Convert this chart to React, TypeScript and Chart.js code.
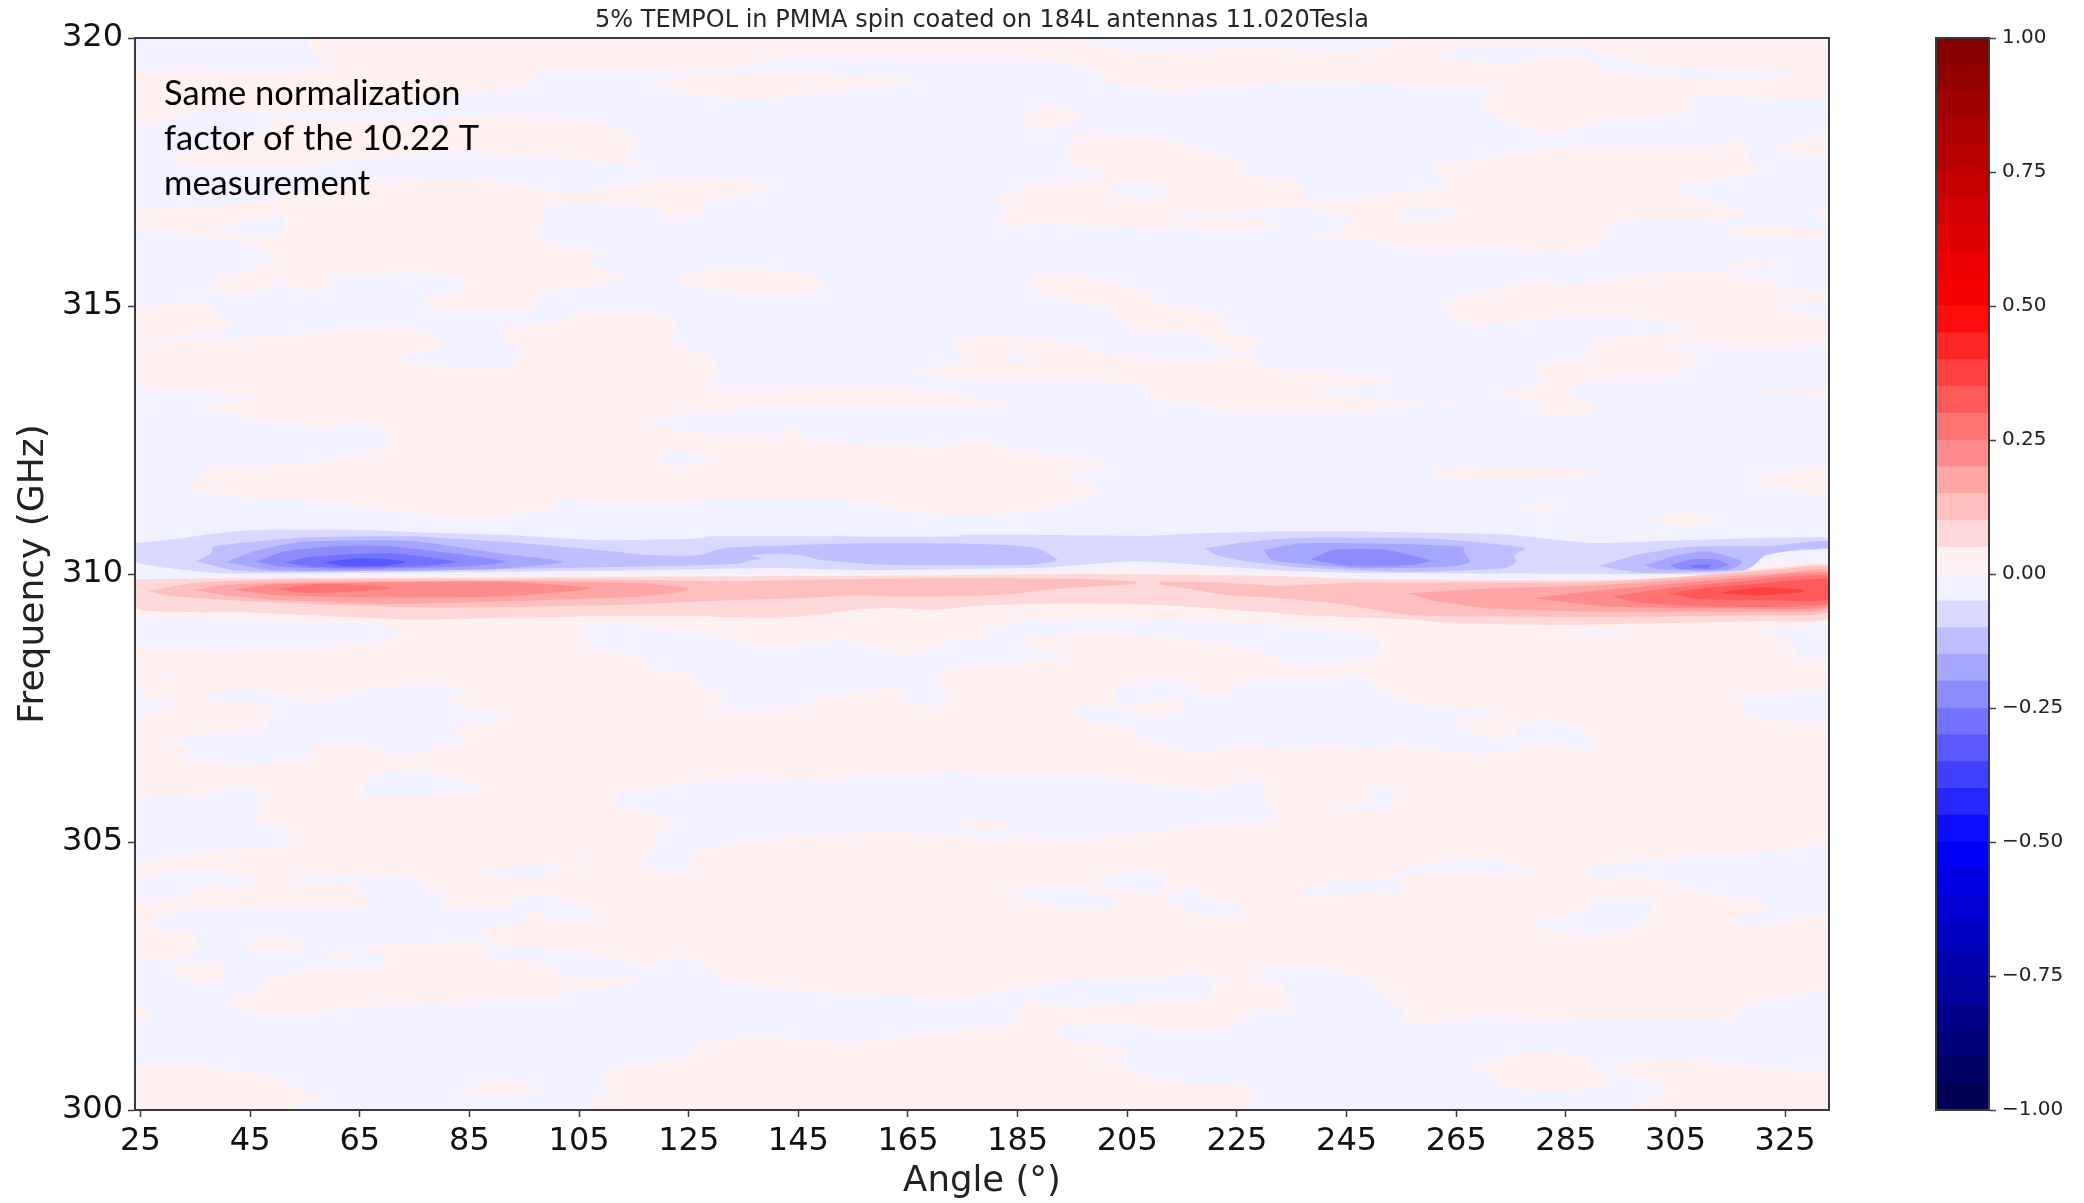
import React, { useEffect, useRef } from "react";
import { Chart, registerables } from "chart.js";

Chart.register(...registerables);

type Pt = [number, number];

const chartTitle = "5% TEMPOL in PMMA spin coated on 184L antennas 11.020Tesla";
const xAxisTitle = "Angle (°)";
const yAxisTitle = "Frequency (GHz)";
const noteLines = ["Same normalization", "factor of the 10.22 T", "measurement"];
const angleTicks = [25, 45, 65, 85, 105, 125, 145, 165, 185, 205, 225, 245, 265, 285, 305, 325];
const barTicks = [-1, -0.75, -0.5, -0.25, 0, 0.25, 0.5, 0.75, 1];
const levelEdges = [-1, -0.95, -0.9, -0.85, -0.8, -0.75, -0.7, -0.65, -0.6, -0.55, -0.5, -0.45, -0.4, -0.35, -0.3, -0.25, -0.2, -0.15, -0.1, -0.05, 0, 0.05, 0.1, 0.15, 0.2, 0.25, 0.3, 0.35, 0.4, 0.45, 0.5, 0.55, 0.6, 0.65, 0.7, 0.75, 0.8, 0.85, 0.9, 0.95, 1];
const levelColors = ["#000055", "#000067", "#000079", "#00008b", "#00009d", "#0000af", "#0000c1", "#0000d2", "#0000e4", "#0000f6", "#0d0dff", "#2626ff", "#4040ff", "#5959ff", "#7373ff", "#8c8cff", "#a6a6ff", "#bfbfff", "#d9d9ff", "#f1f1ff", "#fff1f1", "#ffd9d9", "#ffbfbf", "#ffa6a6", "#ff8c8c", "#ff7373", "#ff5959", "#ff4040", "#ff2626", "#ff0d0d", "#f90000", "#ec0000", "#df0000", "#d20000", "#c60000", "#b90000", "#ac0000", "#9f0000", "#930000", "#860000"];

const LAV = "#f1f1ff", PINK = "#fff1f1", B10 = "#d9d9ff", B15 = "#bfbfff", B20 = "#a6a6ff", B25 = "#8c8cff", B30 = "#7373ff", B35 = "#5959ff";
const R10 = "#ffd9d9", R15 = "#ffbfbf", R20 = "#ffa6a6", R25 = "#ff8c8c", R30 = "#ff7373", R35 = "#ff5959", R40 = "#ff4040";

const pinkBase: Pt[] = [[24, 320], [333, 320], [333, 300], [24, 300]];
const lavenderUpper: Pt[] = [[24, 320], [333, 320], [333, 310.34], [323.5, 310.23], [317, 310.14], [306, 310.01], [290, 309.89], [271, 309.86], [250, 309.9], [236.5, 309.98], [222, 310.05], [205, 310.11], [190, 310.04], [156, 310], [116, 309.99], [60, 309.97], [24, 309.98]];

const pinkTop: Pt[] = [[55.6, 320], [191, 320], [207.8, 319.74], [227.6, 319.83], [246.3, 319.75], [256.2, 319.97], [256.2, 320], [333, 320], [333, 318.89], [309.7, 318.93], [306.7, 318.57], [291.8, 318.51], [285.4, 318.26], [281, 318.23], [274, 318.45], [269.6, 318.82], [272, 319.02], [262.2, 319.1], [239.4, 319.19], [222.6, 319.1], [211.7, 319], [206.8, 319.1], [199.4, 319.18], [199.4, 319.25], [201, 319.33], [194.9, 319.5], [190.9, 319.6], [184, 319.63], [178, 319.63], [141.7, 319.63], [131.8, 319.41], [117, 319.38], [98.2, 319.41], [96.7, 319.32], [96.7, 319.19], [91.2, 319.04], [78.4, 318.88], [74.4, 318.73], [48.7, 318.6], [37.8, 318.66], [24, 318.41], [24, 319.35], [46.7, 319.38], [59.6, 319.47], [56.1, 319.75]];
const pinkStreak: Pt[] = [[116.5, 319.13], [121.9, 319.25], [136.7, 319.35], [151.6, 319.32], [167.9, 319.22], [156.5, 319.07], [136.7, 318.85], [123.9, 318.97]];
const pinkUpperLeft: Pt[] = [[48.9, 318.59], [52.7, 318.45], [86.3, 318.54], [108.1, 318.45], [116, 318.07], [113.5, 317.82], [117.5, 317.61], [102.1, 317.76], [82.3, 317.85], [62.6, 317.73], [56.6, 317.6], [35.9, 317.57], [30.9, 317.7], [32.9, 317.82], [42.8, 318.07], [48.9, 318.32]];
const pinkMidLeft: Pt[] = [[24, 316.8], [47.7, 316.95], [52.7, 317.11], [66.5, 317.31], [87.3, 317.36], [103.1, 317.13], [121.9, 317.39], [131.8, 317.36], [140.2, 317.26], [138.7, 317.14], [127.8, 316.92], [127.8, 316.7], [120.4, 316.67], [119.9, 316.83], [112, 316.89], [99.2, 316.89], [98.2, 316.46], [97.2, 316.33], [102.1, 316.05], [108.6, 316.02], [107.1, 315.77], [114, 315.55], [109.1, 315.4], [97.2, 315.24], [96.7, 314.93], [77.4, 314.96], [76.9, 315.15], [83.8, 315.27], [83.8, 315.52], [74.4, 315.62], [59.6, 315.55], [59.6, 315.34], [53.7, 315.3], [50.7, 315.49], [46.7, 315.27], [38.8, 315.27], [38.8, 315.52], [49.7, 315.83], [43.3, 316.21], [33.9, 316.33], [24, 316.45]];
const pinkOval: Pt[] = [[122.4, 315.52], [127.8, 315.68], [139.7, 315.68], [147.6, 315.55], [149.8, 315.37], [146.6, 315.24], [134.8, 315.24], [125.9, 315.37]];
const pinkEdgeLeft: Pt[] = [[24, 314.96], [35.9, 315.09], [37.8, 314.96], [41.8, 314.65], [37.8, 314.53], [24, 314.4]];
const pinkLarge: Pt[] = [[24, 314.34], [52.7, 314.47], [71.5, 314.65], [76.4, 314.53], [80.4, 314.25], [72, 314.06], [75.4, 313.91], [92.2, 313.87], [94.2, 314.19], [90.8, 314.4], [91.2, 314.59], [102.1, 314.71], [104.6, 314.9], [117, 314.9], [122.9, 314.71], [121.9, 314.31], [129.8, 314], [130.3, 313.72], [127.8, 313.47], [151.6, 313.46], [169.4, 313.44], [178.1, 313.25], [183, 313.25], [183, 313.14], [174.3, 313.14], [141.7, 313.13], [121.9, 312.97], [117.5, 312.85], [123.9, 312.66], [138.7, 312.6], [140.7, 312.51], [144.7, 312.79], [146.6, 312.51], [171.4, 312.38], [178.1, 312.51], [184, 312.32], [195.9, 312.16], [201.8, 312.04], [193.9, 311.82], [200.4, 311.57], [196.2, 311.38], [188.5, 311.19], [175.9, 311.08], [165.3, 311.16], [153.5, 311.38], [131.8, 311.39], [117, 311.33], [100.7, 311.38], [100.7, 311.25], [94.5, 311.14], [86.9, 311.01], [77, 311.1], [54.7, 311.38], [46.7, 311.39], [33.9, 311.6], [37.8, 311.95], [57.6, 312.1], [68.5, 312.35], [70.5, 312.6], [64.5, 312.85], [57.6, 312.72], [35.9, 313.1], [46.7, 313.3], [24, 313.53]];
const pinkTipLeft: Pt[] = [[24, 313.16], [27, 313.1], [24, 313.03]];
const pinkBand314: Pt[] = [[178.1, 314.47], [188, 314.4], [197.9, 314.25], [200.9, 314.09], [217.7, 314], [226.6, 314.09], [230.5, 313.87], [239.4, 313.77], [252.3, 313.66], [252.8, 313.53], [245.4, 313.5], [239.9, 313.46], [245.4, 313.31], [258.2, 313.21], [258.2, 313.15], [240.4, 313], [222.6, 313.02], [215.7, 313.22], [209.8, 313.25], [207.8, 313.53], [192.9, 313.59], [178.1, 313.59], [165.9, 313.78], [175.3, 314], [172.9, 314.28]];
const pinkBlob318: Pt[] = [[185.5, 318.51], [190, 318.73], [196.4, 318.63], [196.4, 318.51], [191.5, 318.31], [186.5, 318.32]];
const pinkCentral: Pt[] = [[193.9, 318.25], [206.8, 318.17], [212.7, 318.1], [219.6, 317.85], [226.1, 317.7], [225.6, 317.51], [236.5, 317.29], [237.4, 317.01], [242.4, 316.95], [255.3, 317.14], [263.2, 317.23], [263.2, 317.39], [259.7, 317.57], [282, 317.95], [295.8, 318], [312.6, 317.98], [315.6, 318.1], [318.6, 317.92], [318, 317.73], [321.3, 317.51], [305.2, 317.23], [308.7, 317.01], [317.6, 316.77], [316.6, 316.64], [293.3, 316.58], [292.8, 316.27], [285.9, 316.02], [270.1, 316.08], [255.3, 316.05], [251.3, 316.21], [239.4, 316.24], [239.9, 316.33], [243.9, 316.42], [245.9, 316.64], [238.4, 316.83], [231.5, 316.83], [223.6, 316.75], [214.7, 316.75], [214.2, 316.67], [227.6, 316.64], [233, 316.49], [220.6, 316.41], [214.7, 316.49], [209.8, 316.44], [191, 316.53], [181.6, 316.49], [181.1, 316.61], [183.5, 316.7], [180.6, 317.01], [184, 317.08], [187.5, 317.29], [199.9, 317.36], [200, 317.48], [193.9, 317.7], [193.9, 317.85], [195.4, 318.07]];
const pinkEdge318: Pt[] = [[323, 317.98], [333, 318.2], [333, 317.8], [323.5, 317.89]];
const pinkEdge317: Pt[] = [[329.4, 316.77], [333, 316.86], [333, 316.64]];
const pinkStreak316: Pt[] = [[313.6, 316.46], [324.5, 316.49], [332.2, 316.39], [330.4, 316.28], [319.5, 316.27], [315.1, 316.33]];
const pinkSmall315: Pt[] = [[314.6, 315.77], [320.5, 315.88], [326.8, 315.82], [320.5, 315.76], [315.1, 315.68]];
const pinkDiagonal: Pt[] = [[186.5, 315.52], [194.9, 315.6], [207.8, 315.27], [211.7, 315.02], [222.1, 314.84], [223.1, 314.53], [229.5, 314.4], [229, 314.28], [225.6, 314.15], [222.1, 314.25], [217.7, 314.48], [205.8, 314.59], [201.8, 314.96], [193.9, 315.09], [188, 315.3]];
const pinkRight314: Pt[] = [[263.2, 315.09], [279, 315.46], [286.9, 315.41], [301.7, 315.62], [315.1, 315.62], [323.5, 315.4], [333, 315.21], [333, 315.07], [322.5, 315.06], [326.5, 314.87], [333, 314.78], [333, 314.31], [316.6, 314.25], [303.7, 314.28], [304.2, 314.19], [309.2, 314.12], [308.7, 313.97], [303.7, 313.69], [292.8, 313.66], [284.9, 313.44], [290.4, 313.13], [290.4, 313.03], [283, 312.94], [278.8, 313.03], [281, 313.19], [272.1, 313.35], [281, 313.59], [279, 313.87], [288.9, 314.06], [289.9, 314.34], [306.7, 314.56], [307.2, 314.62], [291.8, 314.84], [268.1, 314.65], [263.2, 314.9]];
const pinkDot313: Pt[] = [[262.2, 313.22], [264.6, 313.22], [264.6, 313.16], [262.2, 313.16]];
const pinkEdge313: Pt[] = [[320, 313.44], [333, 313.44], [333, 313.22], [328.4, 313.35], [320.5, 313.38]];
const pinkStreak312: Pt[] = [[260.2, 311.92], [267.1, 311.98], [283, 311.98], [291.8, 311.88], [286.9, 311.8], [267.1, 311.76], [260.7, 311.82]];
const pinkSmall311: Pt[] = [[276.6, 311.23], [280.5, 311.3], [284.3, 311.25], [280.5, 311.14]];
const pinkEdge312: Pt[] = [[318.5, 311.79], [333, 312.01], [333, 311.48], [319.5, 311.7]];
const pinkOval311: Pt[] = [[300, 311], [307, 311.16], [313.3, 311.03], [306.5, 310.87]];

const lavTopRight: Pt[] = [[260.7, 319.66], [267.1, 319.84], [283, 319.81], [286.9, 319.88], [290.9, 319.72], [302.7, 319.47], [326.5, 319.38], [323.5, 319.25], [309.7, 319.22], [291.8, 319.41], [289.4, 319.56], [285.9, 319.69], [281, 319.66], [275.5, 319.51], [267.1, 319.58]];
const lavIsle316: Pt[] = [[38.8, 316.46], [44.8, 316.58], [51, 316.7], [50.7, 316.36], [43.3, 316.27]];
const lavIsle312: Pt[] = [[118.4, 312.16], [122.9, 312.3], [130.3, 312.11], [121.9, 312.03]];
const lavIsle317: Pt[] = [[201.8, 317.23], [206.8, 317.33], [212.7, 317.15], [206.8, 317], [202.3, 317.11]];
const lavIsle316b: Pt[] = [[254.3, 316.67], [256.2, 316.86], [265.6, 316.77], [260.2, 316.59]];
const lavIsle314: Pt[] = [[182.6, 314.06], [185, 314.12], [188.5, 314.04], [185, 313.96]];

const lavUnderLeft: Pt[] = [[24, 309.14], [49.1, 309.13], [66.6, 309.07], [72.8, 308.92], [70, 308.77], [60.3, 308.67], [40, 308.57], [24, 308.67]];
const lavTiny308: Pt[] = [[27.9, 308.17], [32.9, 308.1], [28.9, 308.09]];
const lavEdge307: Pt[] = [[24, 307.87], [26, 307.84], [25, 307.71], [30.7, 307.6], [27.9, 307.43], [24, 307.34]];
const lavLeft307: Pt[] = [[36.4, 307.71], [41.8, 307.84], [47.7, 307.81], [56.6, 307.6], [65.5, 307.84], [76.4, 307.93], [85.3, 307.85], [81.4, 307.71], [81.4, 307.59], [91.7, 307.31], [88.3, 307.22], [82.3, 307.14], [82.3, 307.03], [84.3, 306.87], [79.4, 306.78], [76.4, 306.66], [69.5, 306.66], [66.5, 306.81], [56.6, 306.84], [55.6, 306.59], [43.8, 306.44], [32.9, 306.59], [33.9, 306.75], [29.4, 306.87], [38.8, 307.06], [47.7, 307.12], [48.7, 307.34], [49.9, 307.46], [45.7, 307.59], [37.8, 307.62]];
const lavSmall306: Pt[] = [[66, 306.28], [75.4, 306.33], [80.4, 306.25], [87.3, 306], [84.3, 305.91], [66, 305.88], [66, 306.13], [68, 306.19]];
const lavLeft305: Pt[] = [[24, 305.85], [39.3, 305.91], [40.8, 306.05], [46.2, 306.03], [46.7, 305.88], [50.2, 305.82], [46.2, 305.72], [46.7, 305.6], [46.2, 305.35], [52.7, 305.16], [50.7, 304.91], [41.8, 304.88], [32.9, 304.76], [24, 304.7]];
const lavCenter308: Pt[] = [[106, 309.03], [112, 309.07], [125.9, 308.92], [130.7, 308.86], [134, 308.71], [144.5, 308.67], [153.5, 308.77], [163.3, 308.49], [173.8, 308.77], [180.8, 308.77], [178, 308.89], [186.4, 309.14], [207.3, 309.17], [224.8, 309.09], [236.5, 309.02], [246.7, 308.92], [250.8, 308.77], [250.3, 308.49], [237.4, 308.27], [228.5, 308.58], [217.7, 308.77], [201.7, 308.89], [185, 308.8], [189, 308.52], [193.9, 308.52], [193.9, 308.43], [189, 308.4], [178.1, 308.3], [173.3, 308.24], [170.4, 308.09], [170.4, 307.84], [172.2, 307.71], [171.9, 307.59], [169.4, 307.53], [163.5, 307.66], [164.4, 307.87], [157.5, 307.84], [148.1, 307.68], [145.7, 307.5], [134.8, 307.46], [129.3, 307.5], [131.3, 307.62], [130.8, 307.78], [126.9, 307.9], [126.4, 308.09], [123.9, 308.18], [120.4, 308.18], [115, 308.49], [109.1, 308.55], [106.1, 308.77]];
const lavStreak309: Pt[] = [[285.1, 308.88], [290.7, 308.94], [297.3, 308.89], [290.7, 308.82]];
const lavEdge308: Pt[] = [[320.7, 308.95], [333, 309.03], [333, 308.38], [327.5, 308.43], [327, 308.58], [324.5, 308.77]];
const lavRight307: Pt[] = [[194.4, 307.5], [201.8, 307.56], [204.8, 307.48], [209.8, 307.31], [214.7, 307.43], [215.2, 307.59], [213.9, 307.71], [206.8, 307.59], [203.3, 307.59], [202.8, 307.74], [203.8, 307.96], [211.7, 308.01], [219.1, 307.93], [215.7, 307.78], [219.6, 307.71], [224.6, 307.84], [224.6, 307.93], [230.5, 308.04], [242.4, 308.05], [247.3, 308.12], [255.7, 307.62], [272.1, 307.43], [273.1, 307.37], [265.1, 307.31], [264.6, 307.18], [271.1, 306.95], [275.5, 306.97], [276.5, 307.18], [279.5, 307.27], [286.9, 307.14], [289.4, 306.97], [289.4, 306.72], [283.9, 306.84], [277.5, 306.87], [276, 306.72], [269.1, 306.66], [257.2, 306.77], [254.8, 306.85], [252.3, 306.77], [239.4, 306.78], [236.5, 306.72], [230.5, 306.77], [225.6, 306.79], [218.7, 306.69], [212.7, 306.75], [206.8, 306.97], [205.3, 307.15], [197.9, 307.23]];
const lavEdge307b: Pt[] = [[316.6, 307.68], [326.5, 307.81], [333, 307.82], [333, 307.25], [318.6, 307.34], [317.1, 307.53]];
const lavCenter306: Pt[] = [[111.5, 305.88], [121.9, 306.06], [134.8, 306.21], [146.6, 306.16], [159.5, 306.25], [174.3, 306.31], [178.1, 306.28], [197.9, 306.28], [206.8, 306.1], [217.7, 306], [220.6, 305.94], [225.6, 306.13], [230, 306.11], [230, 305.78], [232, 305.54], [229.5, 305.36], [224.6, 305.38], [211.7, 305.22], [194.9, 305.05], [185, 305.1], [181.6, 305.04], [178.1, 305.08], [161.5, 305.19], [139.7, 305.07], [126.9, 304.85], [124.9, 304.73], [125.9, 304.54], [121.9, 304.43], [117, 304.54], [116.5, 304.63], [118.9, 304.88], [119.1, 305.1], [122.9, 305.32], [116, 305.63], [111.5, 305.68]];
const pinkIsle305: Pt[] = [[173.3, 305.36], [178.1, 305.41], [183, 305.38], [183.5, 305.26], [178.1, 305.19], [175.3, 305.28]];
const lavSmall305: Pt[] = [[241.4, 305.67], [249.3, 305.75], [249.3, 305.97], [251.8, 306.06], [253.8, 305.94], [252.8, 305.6], [246.3, 305.61]];
const lavStreak304: Pt[] = [[85.3, 304.46], [94.2, 304.54], [101.1, 304.6], [102.1, 304.53], [97.2, 304.35], [92.2, 304.32]];
const lavDot304: Pt[] = [[103.6, 304.63], [106.6, 304.62], [104.6, 304.55]];
const lavEdge304: Pt[] = [[24, 304.26], [28.9, 304.45], [35.9, 304.48], [41.8, 304.39], [47.2, 304.32], [41.8, 304.17], [35.9, 304.2], [31.9, 303.95], [24, 303.89]];
const lavLowerLeft: Pt[] = [[52.7, 304.35], [57.6, 304.34], [65.5, 304.4], [75.4, 304.34], [76.4, 304.2], [80.4, 303.98], [79.4, 303.86], [82.3, 303.76], [92.2, 303.79], [93.7, 303.97], [99.2, 303.99], [104.6, 303.86], [108.3, 303.66], [105.1, 303.53], [99.2, 303.52], [98.4, 303.7], [94.7, 303.7], [95.7, 303.5], [86.8, 303.37], [90.3, 303.08], [98.2, 303.02], [108.1, 302.89], [114, 302.77], [117, 302.66], [120.9, 302.81], [125.9, 302.83], [130.3, 302.46], [146.6, 302.21], [165.4, 302.12], [168.4, 302.02], [173.3, 302.05], [178.1, 302.12], [193.9, 302.43], [211.7, 302.46], [216.2, 302.56], [223.6, 302.43], [220.6, 302.33], [219.6, 302.12], [208.8, 302.02], [194.9, 301.93], [187, 302.04], [185.5, 301.93], [184, 301.59], [178.1, 301.56], [155.5, 301.28], [136.7, 301.37], [126.9, 301.24], [124.4, 301], [112, 300.81], [108.6, 300.56], [111, 300.37], [106.6, 300.16], [106.6, 300], [53.2, 300], [53.2, 300.09], [58.6, 300.22], [52.7, 300.44], [49.7, 300.65], [42.8, 300.72], [31.9, 300.88], [24, 300.84], [24, 301.68], [27.9, 301.77], [24, 301.99], [24, 302.8], [30.9, 302.8], [35.4, 303.02], [34.9, 303.27], [26.5, 303.42], [28.9, 303.64], [39.8, 303.8], [52.7, 303.73], [67, 303.8], [65.5, 303.98], [64.5, 304.2], [57.6, 304.23], [52.7, 304.26]];
const pinkIsle303: Pt[] = [[44.3, 303.14], [49.7, 303.25], [54.2, 303.17], [54.7, 303.02], [46.7, 302.96], [44.3, 303.02]];
const pinkDot303: Pt[] = [[58.6, 302.92], [62.6, 302.94], [63.1, 302.83], [60.6, 302.8], [58.8, 302.86]];
const pinkIsle302: Pt[] = [[30.4, 302.64], [32.9, 302.75], [38.8, 302.77], [40, 302.61], [39.8, 302.43], [35.4, 302.4], [32.4, 302.49]];
const pinkLobe302: Pt[] = [[40.8, 302.05], [43.8, 302.12], [49.7, 302.49], [60.6, 302.67], [65.5, 302.61], [69.5, 302.64], [69, 302.92], [65.5, 302.96], [66, 303.05], [74.4, 303.11], [88.3, 303.11], [88.3, 302.83], [97.2, 302.77], [103.1, 302.48], [115, 302.49], [115.5, 302.4], [109.1, 302.24], [103.1, 302.24], [102.1, 302.12], [62.6, 301.9], [51.7, 301.74], [40.8, 301.96]];
const pinkBlob300: Pt[] = [[82.3, 300.37], [90.3, 300.56], [97.2, 300.44], [97.7, 300.34], [90.3, 300.24], [84.3, 300.28]];
const lavLowerRight: Pt[] = [[227.1, 302.46], [230.5, 302.61], [235.5, 302.71], [239.4, 302.69], [243.4, 302.55], [248.8, 302.46], [252.8, 302.05], [255.7, 301.84], [255.2, 301.71], [259.2, 301.59], [263.2, 301.65], [266.1, 301.63], [268.1, 301.74], [277, 301.71], [306.7, 301.68], [315.6, 301.71], [316.1, 301.9], [333, 302.18], [333, 300.78], [305.7, 300.95], [295.8, 300.9], [293.3, 300.75], [297.8, 300.56], [302.7, 300.44], [302.7, 300.28], [292.8, 300], [225.6, 300], [228.5, 300.25], [226.6, 300.47], [216.7, 300.5], [206.8, 300.65], [202.8, 300.92], [196.9, 301], [204.3, 301], [204.8, 301.15], [194.9, 301.28], [191.9, 301.43], [192.9, 301.56], [204.8, 301.59], [212.7, 301.49], [222.1, 301.49], [226.6, 301.74], [229.5, 301.94], [232, 301.84], [235, 301.9], [234, 302.12], [233.5, 302.37], [230.5, 302.4]];
const pinkIsle301: Pt[] = [[267.1, 300.78], [277, 301.09], [287.9, 301], [290.4, 300.78], [292.8, 300.62], [292.3, 300.47], [282.9, 300.34], [273.5, 300.44], [273.1, 300.59]];
const lavBlob304a: Pt[] = [[181.6, 304.07], [191.9, 304.18], [195.9, 304.14], [198.9, 304.03], [203.3, 303.92], [201.8, 303.79], [192.9, 303.74], [189.5, 303.86], [183, 304.01]];
const lavBlob304b: Pt[] = [[198.9, 304.32], [206.8, 304.45], [211.7, 304.35], [211.7, 304.1], [207.8, 304.03], [203.3, 304.14]];
const lavBlob304c: Pt[] = [[213.2, 304.1], [217.7, 304.16], [218.7, 303.95], [225.1, 303.86], [225.6, 303.64], [219.1, 303.62], [212.2, 303.89]];
const lavBlob304d: Pt[] = [[237, 304.11], [242.4, 304.26], [252.3, 304.32], [256.2, 304.54], [265.1, 304.65], [273.1, 304.65], [279.5, 304.47], [272.1, 304.39], [262.2, 304.42], [254.3, 304.34], [255.7, 304.07], [247.3, 304.07], [241.4, 303.99], [237.4, 304]];
const lavRight304: Pt[] = [[288.4, 304.54], [296.8, 304.63], [316.6, 304.79], [326.5, 304.85], [333, 304.96], [333, 303.67], [327.5, 303.61], [324.5, 303.48], [315.6, 303.45], [315.1, 303.55], [322.5, 303.73], [320.5, 303.86], [310.6, 304.07], [304.7, 304.26], [297.8, 304.37], [289.9, 304.34]];
const lavBlob303: Pt[] = [[278.5, 303.48], [286.9, 303.68], [290.9, 303.95], [300.7, 303.92], [300.3, 303.61], [296.8, 303.39], [289.9, 303.27], [281.9, 303.36]];

const bandLevel10Blue: Pt[] = [[24, 310.58], [29.5, 310.63], [40, 310.77], [45.6, 310.82], [65.9, 310.82], [74.9, 310.78], [91, 310.73], [108.5, 310.63], [127, 310.66], [128.4, 310.7], [174.5, 310.7], [174.8, 310.73], [186.4, 310.73], [209, 310.71], [215.7, 310.75], [222.7, 310.77], [230, 310.79], [249.5, 310.79], [265.9, 310.76], [274.6, 310.73], [289.3, 310.58], [306.7, 310.63], [333, 310.68], [333, 310.48], [324.9, 310.42], [321.4, 310.35], [319.3, 310.17], [317.2, 310.01], [295.5, 310], [246.7, 310.02], [236.5, 310.05], [222, 310.14], [211, 310.22], [204, 310.23], [192.9, 310.14], [187, 310.11], [156.8, 310.07], [140, 310.11], [116.1, 310.07], [40, 310.01], [30.2, 310.11], [24, 310.24]];
const bandLevel15BlueLeft: Pt[] = [[35.1, 310.24], [37.9, 310.38], [38.3, 310.51], [45.6, 310.6], [54.7, 310.68], [74.9, 310.7], [91, 310.6], [108.5, 310.45], [119, 310.35], [127, 310.35], [130.5, 310.46], [133.3, 310.5], [154.9, 310.57], [173.8, 310.57], [182.9, 310.54], [188.5, 310.48], [192.3, 310.26], [187.1, 310.17], [161.4, 310.17], [156, 310.2], [149.1, 310.26], [145.6, 310.35], [141, 310.38], [136.4, 310.35], [138.3, 310.28], [136.4, 310.26], [134.5, 310.2], [129.1, 310.17], [116.1, 310.14], [84, 310.08], [49.1, 310.04], [42.1, 310.07]];
const bandLevel15BlueMid: Pt[] = [[219.2, 310.48], [224.8, 310.57], [231.7, 310.65], [236.5, 310.67], [239.7, 310.68], [259.9, 310.66], [271.1, 310.57], [277.7, 310.48], [275.6, 310.35], [276, 310.23], [274, 310.11], [257.1, 310.04], [236.5, 310.12], [225.9, 310.25], [221.3, 310.35]];
const bandLevel15BlueRight: Pt[] = [[291.2, 310.15], [297.6, 310.35], [307.4, 310.51], [321.4, 310.52], [333, 310.62], [333, 310.49], [327, 310.45], [321.4, 310.35], [319.3, 310.17], [317.2, 310.07], [299, 310.02]];
const bandLevel20BlueLeft: Pt[] = [[40.7, 310.22], [45.6, 310.42], [54.7, 310.6], [74.2, 310.62], [91, 310.38], [102.2, 310.23], [91, 310.1], [70, 310.06], [49.1, 310.07]];
const bandLevel20BlueMid: Pt[] = [[229.9, 310.45], [236.2, 310.57], [250.1, 310.57], [266.2, 310.51], [266.6, 310.38], [267.6, 310.23], [264.1, 310.14], [246.7, 310.11], [231.3, 310.26]];
const bandLevel20BlueRight: Pt[] = [[299.4, 310.17], [305.3, 310.35], [310.9, 310.42], [317.3, 310.23], [314.4, 310.07], [301.8, 310.09]];
const bandLevel25BlueLeft: Pt[] = [[46, 310.23], [51.2, 310.42], [60.3, 310.52], [70, 310.52], [82.6, 310.38], [91.7, 310.23], [84, 310.14], [63.1, 310.09], [50.5, 310.14]];
const bandLevel25BlueMid: Pt[] = [[238.3, 310.27], [242.5, 310.45], [252.2, 310.45], [260.3, 310.25], [257.1, 310.17], [245.3, 310.15]];
const bandLevel25BlueRight: Pt[] = [[303.9, 310.16], [307.8, 310.27], [312.3, 310.27], [314.7, 310.17], [311.6, 310.09], [306, 310.09]];
const bandLevel30BlueLeft: Pt[] = [[51.2, 310.21], [56.1, 310.32], [65.2, 310.38], [72.1, 310.38], [82.6, 310.23], [77, 310.15], [63.1, 310.12], [56.1, 310.14]];
const bandLevel30BlueRight: Pt[] = [[307.8, 310.16], [311.3, 310.17], [310.9, 310.12], [308.1, 310.12]];
const bandLevel35BlueLeft: Pt[] = [[58.2, 310.22], [63.8, 310.29], [68.6, 310.29], [73.5, 310.23], [69.4, 310.15], [61.7, 310.15]];

const bandLevel10Red: Pt[] = [[24, 309.9], [42, 309.92], [91, 309.94], [116.1, 309.95], [165, 309.97], [192.9, 310], [219.4, 309.98], [236.5, 309.95], [250.1, 309.9], [288.6, 309.88], [306, 309.95], [323.5, 310.11], [333, 310.15], [333, 309.18], [320, 309.12], [281.6, 309.05], [264.1, 309.08], [257.1, 309.15], [236.5, 309.23], [231.3, 309.28], [215.9, 309.39], [207.5, 309.43], [192.9, 309.45], [178.3, 309.41], [169.8, 309.33], [162.1, 309.36], [156, 309.34], [146.8, 309.22], [140.6, 309.18], [130.7, 309.2], [116.1, 309.22], [91, 309.18], [73.5, 309.15], [45.6, 309.28], [24, 309.35]];
const bandLevel15RedLeft: Pt[] = [[26.4, 309.68], [35.1, 309.84], [49.1, 309.89], [91, 309.9], [116.1, 309.89], [132.6, 309.87], [146, 309.89], [169.4, 309.92], [196, 309.91], [204.8, 309.87], [206.7, 309.86], [206.7, 309.82], [202.9, 309.79], [192.9, 309.73], [185.2, 309.64], [177.5, 309.59], [163.7, 309.58], [154.5, 309.6], [146, 309.55], [132.6, 309.51], [120.7, 309.46], [116.1, 309.43], [100, 309.4], [80, 309.37], [60, 309.42], [40, 309.52], [30, 309.6]];
const bandLevel15RedRight: Pt[] = [[210.9, 309.86], [222.1, 309.84], [232.8, 309.78], [246.7, 309.84], [262.7, 309.84], [288, 309.84], [300, 309.9], [323.5, 310.08], [333, 310.12], [333, 309.3], [319, 309.23], [288.6, 309.2], [257.1, 309.23], [243.2, 309.45], [236.5, 309.51], [231.3, 309.56], [223.6, 309.6], [215.9, 309.73], [210.9, 309.81]];
const bandLevel20RedLeft: Pt[] = [[34.9, 309.7], [40, 309.79], [49.1, 309.84], [91, 309.87], [116.1, 309.83], [123, 309.76], [125.1, 309.72], [123, 309.66], [116.1, 309.58], [91, 309.49], [70, 309.44], [49.1, 309.52], [40, 309.61]];
const bandLevel20RedRight: Pt[] = [[256.3, 309.64], [271.1, 309.73], [288.6, 309.78], [301.1, 309.86], [313, 309.95], [323.5, 310.01], [333, 310.06], [333, 309.36], [320, 309.3], [288.6, 309.3], [271.1, 309.36], [260.6, 309.51]];
const bandLevel25RedLeft: Pt[] = [[41.9, 309.71], [49.1, 309.81], [91, 309.86], [107.2, 309.73], [91, 309.58], [70, 309.56], [49.1, 309.61]];
const bandLevel25RedRight: Pt[] = [[278.9, 309.55], [288.6, 309.67], [302.5, 309.8], [316.5, 309.92], [333, 310.01], [333, 309.4], [313, 309.36], [292, 309.4]];
const bandLevel30RedLeft: Pt[] = [[49.8, 309.72], [56.1, 309.81], [66.6, 309.79], [71.1, 309.74], [63.1, 309.67], [54.7, 309.65]];
const bandLevel30RedRight: Pt[] = [[293.4, 309.58], [303.2, 309.73], [316.5, 309.86], [333, 309.96], [333, 309.45], [313, 309.39], [299, 309.46]];
const bandLevel35RedRight: Pt[] = [[303.6, 309.63], [309.5, 309.73], [320, 309.82], [333, 309.9], [333, 309.53], [320, 309.51], [309.5, 309.53]];
const bandLevel40RedRight: Pt[] = [[313, 309.65], [320, 309.75], [328, 309.71], [328.4, 309.67], [320, 309.6]];

// bottom layer first
const layers: [Pt[], string][] = [
  [pinkBase, PINK], [lavenderUpper, LAV],
  ...[pinkTop, pinkStreak, pinkUpperLeft, pinkMidLeft, pinkOval, pinkEdgeLeft, pinkLarge, pinkTipLeft, pinkBand314, pinkBlob318, pinkCentral, pinkEdge318, pinkEdge317, pinkStreak316, pinkSmall315, pinkDiagonal, pinkRight314, pinkDot313, pinkEdge313, pinkStreak312, pinkSmall311, pinkEdge312, pinkOval311].map((p): [Pt[], string] => [p, PINK]),
  ...[lavTopRight, lavIsle316, lavIsle312, lavIsle317, lavIsle316b, lavIsle314, lavUnderLeft, lavTiny308, lavEdge307, lavLeft307, lavSmall306, lavLeft305, lavCenter308, lavStreak309, lavEdge308, lavRight307, lavEdge307b, lavCenter306, lavSmall305, lavStreak304, lavDot304, lavEdge304, lavLowerLeft, lavLowerRight, lavBlob304a, lavBlob304b, lavBlob304c, lavBlob304d, lavRight304, lavBlob303].map((p): [Pt[], string] => [p, LAV]),
  ...[pinkIsle305, pinkIsle303, pinkDot303, pinkIsle302, pinkLobe302, pinkBlob300, pinkIsle301].map((p): [Pt[], string] => [p, PINK]),
  [bandLevel10Blue, B10], [bandLevel15BlueLeft, B15], [bandLevel15BlueMid, B15], [bandLevel15BlueRight, B15],
  [bandLevel20BlueLeft, B20], [bandLevel20BlueMid, B20], [bandLevel20BlueRight, B20],
  [bandLevel25BlueLeft, B25], [bandLevel25BlueMid, B25], [bandLevel25BlueRight, B25],
  [bandLevel30BlueLeft, B30], [bandLevel30BlueRight, B30], [bandLevel35BlueLeft, B35],
  [bandLevel10Red, R10], [bandLevel15RedLeft, R15], [bandLevel15RedRight, R15],
  [bandLevel20RedLeft, R20], [bandLevel20RedRight, R20],
  [bandLevel25RedLeft, R25], [bandLevel25RedRight, R25],
  [bandLevel30RedLeft, R30], [bandLevel30RedRight, R30],
  [bandLevel35RedRight, R35], [bandLevel40RedRight, R40],
];

const AXIS = "#3a3a3a";
const FONT = "'DejaVu Sans', sans-serif";

const framePlugin = {
  id: "frame",
  afterDraw(chart: any) {
    const { ctx, chartArea: a } = chart;
    ctx.save();
    ctx.clearRect(a.left - 2, 0, a.right - a.left + 3, a.top - 1);
    ctx.strokeStyle = AXIS;
    ctx.lineWidth = 2;
    ctx.strokeRect(a.left, a.top, a.right - a.left, a.bottom - a.top);
    ctx.restore();
  },
};

const mainFramePlugin = {
  id: "mainFrame",
  afterDraw(chart: any) {
    const { ctx, chartArea: a } = chart;
    ctx.save();
    ctx.strokeStyle = AXIS;
    ctx.lineWidth = 2;
    ctx.strokeRect(a.left, a.top, a.right - a.left, a.bottom - a.top);
    ctx.restore();
  },
};

const notePlugin = {
  id: "note",
  afterDraw(chart: any) {
    const { ctx, chartArea: a } = chart;
    ctx.save();
    ctx.fillStyle = "#000";
    ctx.font = "34.5px Lato, sans-serif";
    ctx.letterSpacing = "0.01px";
    ctx.textBaseline = "alphabetic";
    noteLines.forEach((t, i) => ctx.fillText(t, a.left + 29, a.top + 67 + i * 45));
    ctx.restore();
  },
};

export default function App() {
  const mainRef = useRef<HTMLCanvasElement>(null);
  const barRef = useRef<HTMLCanvasElement>(null);

  useEffect(() => {
    const main = new Chart(mainRef.current!, {
      type: "scatter",
      data: {
        datasets: layers
          .map(([pts, color]) => ({
            data: [...pts, pts[0]].map(([x, y]) => ({ x, y })),
            showLine: true,
            fill: "shape",
            backgroundColor: color,
            borderColor: "transparent",
            borderWidth: 0,
            pointRadius: 0,
            pointHitRadius: 0,
            tension: 0.2,
          }))
          .reverse(),
      },
      options: {
        responsive: false,
        animation: false,
        devicePixelRatio: 1,
        events: [],
        layout: { padding: { right: 71, left: 0, top: 0, bottom: 0 } },
        plugins: {
          colors: { enabled: false },
          legend: { display: false },
          tooltip: { enabled: false },
          title: {
            display: true,
            text: chartTitle,
            fullSize: false,
            color: "#262626",
            font: { family: FONT, size: 24, weight: "normal" },
            padding: { top: 6, bottom: 3.2 },
          },
        },
        scales: {
          x: {
            type: "linear",
            min: 24,
            max: 333,
            afterBuildTicks: (s: any) => {
              s.ticks = angleTicks.map((value) => ({ value }));
            },
            afterFit: (s: any) => {
              s.height = 93;
            },
            grid: { drawOnChartArea: false, tickLength: 7, tickColor: AXIS, tickWidth: 1.5 },
            border: { color: AXIS, width: 2 },
            ticks: { color: "#111", font: { family: FONT, size: 32 }, maxRotation: 0, autoSkip: false, padding: 5 },
            title: { display: true, text: xAxisTitle, color: "#222", font: { family: FONT, size: 35.5 }, padding: { top: 5, bottom: 0 } },
          },
          y: {
            type: "linear",
            min: 300,
            max: 320,
            afterFit: (s: any) => {
              s.width = 135;
            },
            grid: { drawOnChartArea: false, tickLength: 7, tickColor: AXIS, tickWidth: 1.5 },
            border: { color: AXIS, width: 2 },
            ticks: { color: "#111", font: { family: FONT, size: 32 }, stepSize: 5, padding: 5 },
            title: { display: true, text: yAxisTitle, color: "#222", font: { family: FONT, size: 36 }, padding: { top: 12, bottom: 0 } },
          },
        },
      },
      plugins: [mainFramePlugin, notePlugin],
    } as any);

    const bar = new Chart(barRef.current!, {
      type: "bar",
      data: {
        labels: [""],
        datasets: levelColors.map((color, i) => ({
          data: [[levelEdges[i], levelEdges[i + 1]]],
          backgroundColor: color,
          borderColor: color,
          borderWidth: 0,
          barPercentage: 1,
          categoryPercentage: 1,
          grouped: false,
        })),
      },
      options: {
        responsive: false,
        animation: false,
        devicePixelRatio: 1,
        events: [],
        layout: { padding: { left: 36, top: 38, bottom: 93, right: 0 } },
        plugins: { colors: { enabled: false }, legend: { display: false }, tooltip: { enabled: false }, title: { display: false } },
        scales: {
          x: { display: false },
          y: {
            type: "linear",
            position: "right",
            min: -1,
            max: 1,
            afterBuildTicks: (s: any) => {
              s.ticks = barTicks.map((value) => ({ value }));
            },
            afterFit: (s: any) => {
              s.width = 95;
            },
            grid: { drawOnChartArea: false, tickLength: 7, tickColor: AXIS, tickWidth: 1.5 },
            border: { color: AXIS, width: 2 },
            ticks: {
              color: "#222",
              font: { family: FONT, size: 20 },
              padding: 6,
              callback: (v: any) => (Number(v) < 0 ? "\u2212" + Math.abs(Number(v)).toFixed(2) : Number(v).toFixed(2)),
            },
          },
        },
      },
      plugins: [framePlugin],
    } as any);

    return () => {
      main.destroy();
      bar.destroy();
    };
  }, []);

  return (
    <div style={{ position: "absolute", left: 0, top: 0, width: 2084, height: 1203, overflow: "hidden", background: "#fff" }}>
      <canvas ref={mainRef} width={1900} height={1203} style={{ position: "absolute", left: 0, top: 0 }} />
      <canvas ref={barRef} width={184} height={1203} style={{ position: "absolute", left: 1900, top: 0 }} />
    </div>
  );
}
